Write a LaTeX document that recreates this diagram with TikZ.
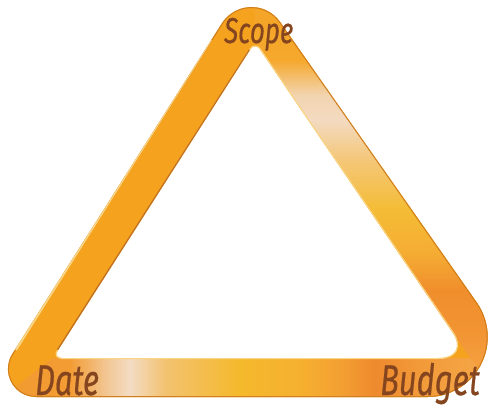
\documentclass[tikz,border=0pt]{standalone}
\usepackage{fontspec}
\usepackage{graphicx}
\newfontfamily\hand{Fira Sans}[FakeBold=0.6]
\definecolor{leftc}{HTML}{F5A21F}
\definecolor{txt}{HTML}{84451F}
\definecolor{hi}{HTML}{F9D585}
\definecolor{lo}{HTML}{C0701E}
\definecolor{b0}{HTML}{F29A30}
\definecolor{b1}{HTML}{F39C34}
\definecolor{b2}{HTML}{F2C590}
\definecolor{b3}{HTML}{F3DCC4}
\definecolor{b4}{HTML}{F2C270}
\definecolor{b5}{HTML}{F5B92C}
\definecolor{b6}{HTML}{F5B030}
\definecolor{b7}{HTML}{F3A032}
\definecolor{b8}{HTML}{EE8A2E}
\definecolor{b9}{HTML}{F29A3A}
\definecolor{b10}{HTML}{F5A848}
\definecolor{r0}{HTML}{F5A324}
\definecolor{r1}{HTML}{F5A82C}
\definecolor{r2}{HTML}{F2D4B0}
\definecolor{r3}{HTML}{F3DAC0}
\definecolor{r4}{HTML}{F4C778}
\definecolor{r5}{HTML}{F4BC34}
\definecolor{r6}{HTML}{F5AE34}
\definecolor{r7}{HTML}{F08E2C}
\definecolor{r8}{HTML}{F29432}
\definecolor{r9}{HTML}{F5A446}
\definecolor{r10}{HTML}{F5A848}
\pgfdeclarehorizontalshading{botband}{100bp}{color(0bp)=(b0); color(25bp)=(b0);
  color(32.14bp)=(b1); color(35.71bp)=(b2); color(38.27bp)=(b3); color(41.84bp)=(b4);
  color(49.49bp)=(b5); color(55.61bp)=(b6); color(59.69bp)=(b7); color(63.27bp)=(b8);
  color(67.86bp)=(b9); color(75bp)=(b10); color(100bp)=(b10)}
\pgfdeclareverticalshading{rightband}{100bp}{color(0bp)=(r10); color(25bp)=(r10);
  color(29.4bp)=(r9); color(35bp)=(r8); color(39.4bp)=(r7); color(43.9bp)=(r6);
  color(48.3bp)=(r5); color(53.9bp)=(r4); color(58.3bp)=(r3); color(61.1bp)=(r2);
  color(65bp)=(r1); color(75bp)=(r0); color(100bp)=(r0)}
\def\outerP{(36,397) -- (427.7,397) arc[start angle=90, end angle=-35, radius=60]
  -- (280.1,22.0) arc[start angle=-35, end angle=-147.5, radius=35]
  -- (12.3,353.9) arc[start angle=212.5, end angle=90, radius=28] -- cycle}
\def\innerP{(260,358) [rounded corners=31pt] -- (470,358) [rounded corners=9pt] -- (255,42) [rounded corners=9pt] -- (53,358) -- cycle}
\tikzset{lbl/.style={text=txt, inner sep=0pt, font=\hand\itshape}}
\begin{document}
\begin{tikzpicture}[x=1pt,y=-1pt]
\useasboundingbox (0,0) rectangle (490,410);
\begin{scope}[even odd rule]
  \clip \outerP \innerP;
  \fill[leftc] (-50,-50) rectangle (550,450);
  \begin{scope}
    \clip (53,358) -- (-40,430) -- (540,430) -- (470,358) -- cycle;
    \shade[shading=botband] (0,340) rectangle (490,410);
  \end{scope}
  \begin{scope}
    \clip (470,358) -- (540,430) -- (540,-60) -- (255,-60) -- (255,42) -- cycle;
    \shade[shading=rightband] (240,-30) rectangle (500,420);
  \end{scope}
  \draw[hi, line width=2pt] \innerP;
  \draw[lo!70!leftc, line width=2pt] \outerP;
  \draw[lo, line width=2.5pt] (250,50) -- (58,350);
  \draw[hi, line width=2pt] (211,40) -- (16,350);
\end{scope}
\node[lbl, anchor=base west] (scope) at (224,43) {\fontsize{36}{36}\selectfont\scalebox{0.72}[1]{Scope}};
\node[lbl, anchor=base west] (date) at (35,395) {\fontsize{43}{43}\selectfont\scalebox{0.72}[1]{Date}};
\node[lbl, anchor=base west] (budget) at (380,395) {\fontsize{43}{43}\selectfont\scalebox{0.72}[1]{Budget}};
\end{tikzpicture}
\end{document}
